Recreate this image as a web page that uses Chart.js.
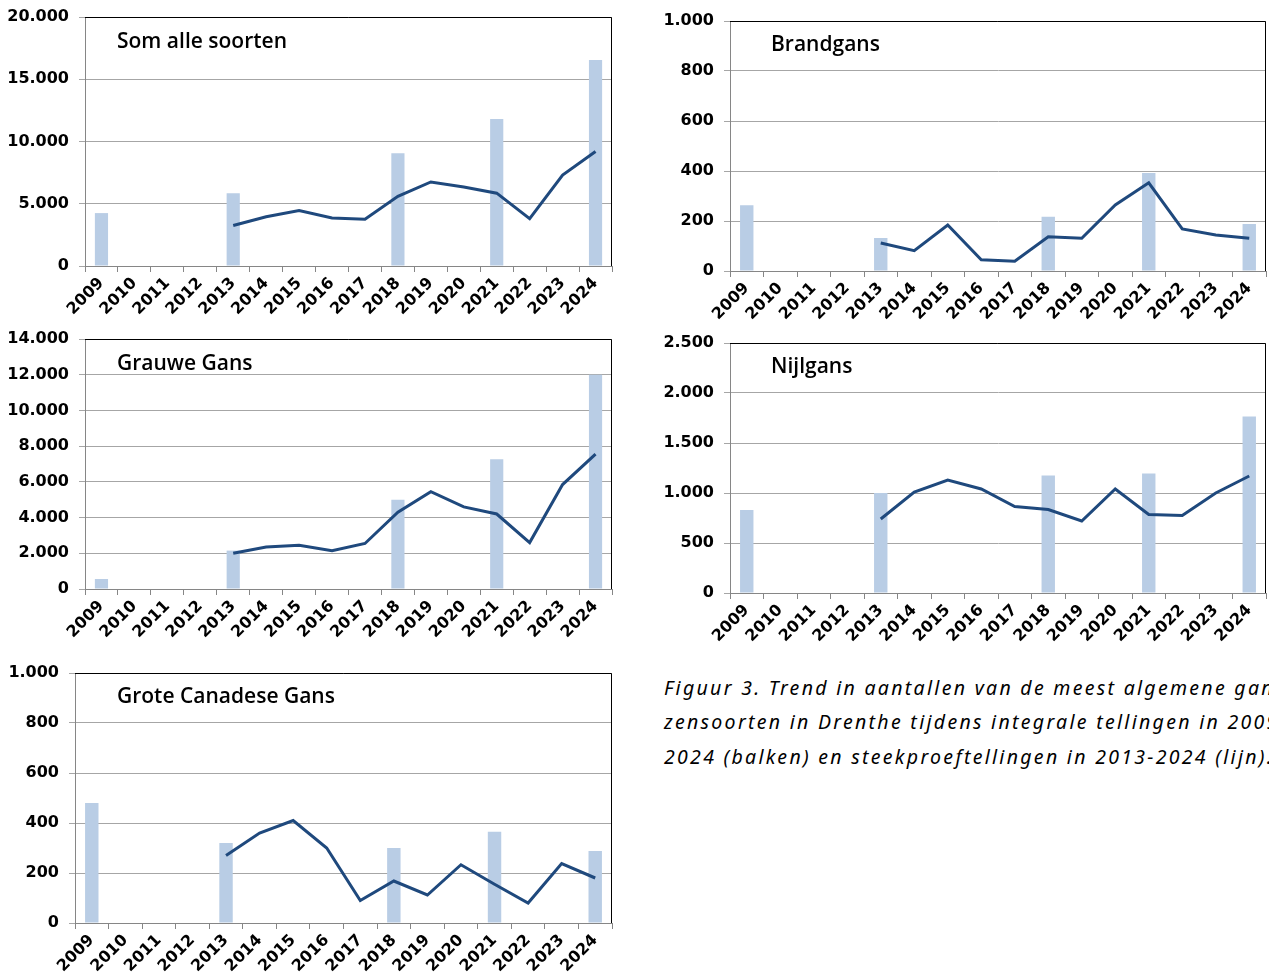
<!DOCTYPE html>
<html>
<head>
<meta charset="utf-8">
<script src="https://cdn.jsdelivr.net/npm/chart.js@4"></script>
<style>
  html, body { margin: 0; padding: 0; background: #fff; }
  body { width: 1269px; height: 978px; position: relative; overflow: hidden; }
  .box { position: absolute; }
  .title { position: absolute; font-family: "Open Sans", sans-serif; font-weight: 600; font-size: 21px;
           line-height: 30px; height: 30px; color: #000; white-space: nowrap; }
  .cap { position: absolute; left: 664px; font-family: "Noto Sans", sans-serif; font-style: italic;
         font-size: 19.5px; letter-spacing: 2.3px; line-height: 30px; white-space: nowrap; color: #000; }
</style>
</head>
<body>
<div class="box" style="left:0px;top:0px;width:625px;height:335px"><canvas id="cSom"></canvas></div>
<div class="box" style="left:640px;top:0px;width:629px;height:335px"><canvas id="cBrand"></canvas></div>
<div class="box" style="left:0px;top:330px;width:625px;height:330px"><canvas id="cGrauwe"></canvas></div>
<div class="box" style="left:640px;top:335px;width:629px;height:320px"><canvas id="cNijl"></canvas></div>
<div class="box" style="left:0px;top:665px;width:625px;height:313px"><canvas id="cCan"></canvas></div>

<div class="title" style="left:117px;top:25px">Som alle soorten</div>
<div class="title" style="left:771px;top:28px">Brandgans</div>
<div class="title" style="left:117px;top:347px">Grauwe Gans</div>
<div class="title" style="left:771px;top:350px">Nijlgans</div>
<div class="title" style="left:117px;top:680px">Grote Canadese Gans</div>

<div class="cap" style="top:673px">Figuur 3. Trend in aantallen van de meest algemene gan-</div>
<div class="cap" style="top:707px">zensoorten in Drenthe tijdens integrale tellingen in 2009-</div>
<div class="cap" style="top:742px">2024 (balken) en steekproeftellingen in 2013-2024 (lijn).</div>

<script>
const years = ['2009', '2010', '2011', '2012', '2013', '2014', '2015', '2016',
               '2017', '2018', '2019', '2020', '2021', '2022', '2023', '2024'];

// integrale tellingen (balken)
const somBars    = [4250, null, null, null, 5850, null, null, null, null, 9050, null, null, 11800, null, null, 16550];
const brandBars  = [263, null, null, null, 132, null, null, null, null, 217, null, null, 392, null, null, 188];
const grauweBars = [560, null, null, null, 2150, null, null, null, null, 5000, null, null, 7270, null, null, 12000];
const nijlBars   = [830, null, null, null, 1000, null, null, null, null, 1175, null, null, 1195, null, null, 1765];
const canBars    = [480, null, null, null, 320, null, null, null, null, 300, null, null, 365, null, null, 288];

// steekproeftellingen (lijn)
const somLine    = [null, null, null, null, 3250, 3950, 4450, 3850, 3750, 5600, 6750, 6350, 5850, 3800, 7300, 9200];
const brandLine  = [null, null, null, null, 112, 81, 184, 45, 39, 137, 131, 264, 353, 168, 144, 131];
const grauweLine = [null, null, null, null, 2000, 2350, 2450, 2150, 2550, 4300, 5450, 4600, 4200, 2600, 5850, 7550];
const nijlLine   = [null, null, null, null, 740, 1010, 1130, 1040, 865, 835, 720, 1040, 785, 775, 1000, 1170];
const canLine    = [null, null, null, null, 270, 360, 410, 300, 90, 168, 112, 233, 155, 80, 238, 180];

const BAR_COLOR = '#b9cde5';
const LINE_COLOR = '#1f497d';
const AXIS_GRAY = '#868686';

// top + right edge of the plot area in black
const framePlugin = {
    id: 'frame',
    afterDatasetsDraw(chart) {
        const { ctx, chartArea: a } = chart;
        ctx.save();
        ctx.strokeStyle = '#000';
        ctx.lineWidth = 1;
        ctx.beginPath();
        ctx.moveTo(a.left, Math.round(a.top) + 0.5);
        ctx.lineTo(Math.round(a.right) - 0.5, Math.round(a.top) + 0.5);
        ctx.lineTo(Math.round(a.right) - 0.5, a.bottom);
        ctx.stroke();
        ctx.restore();
    }
};

const dotted = v => String(v).replace(/\B(?=(\d{3})+(?!\d))/g, '.');

// box = where the canvas sits on the page, plot = where the chart area must land
function makeGooseChart(canvasId, bars, line, max, step, box, plot) {
    return new Chart(document.getElementById(canvasId), {
        type: 'bar',
        data: {
            labels: years,
            datasets: [
                { type: 'line', data: line, borderColor: LINE_COLOR, borderWidth: 3, pointRadius: 0,
                  tension: 0, spanGaps: false, order: 0 },
                { type: 'bar', data: bars, backgroundColor: BAR_COLOR, barPercentage: 0.4,
                  categoryPercentage: 1, order: 1 }
            ]
        },
        options: {
            responsive: true,
            maintainAspectRatio: false,
            animation: false,
            layout: { padding: { top: plot.top - box.top, right: box.left + box.w - plot.right, left: 0, bottom: 0 } },
            plugins: { legend: { display: false }, tooltip: { enabled: false } },
            scales: {
                x: {
                    offset: true,
                    grid: { offset: true, drawOnChartArea: false, tickLength: 6, color: AXIS_GRAY },
                    border: { color: AXIS_GRAY },
                    ticks: { autoSkip: false, minRotation: 45, maxRotation: 45, color: '#000',
                             font: { family: 'DejaVu Sans', weight: 'bold', size: 16 }, padding: 2 },
                    afterFit: s => {
                        s.height = box.top + box.h - plot.bottom;
                        s.paddingLeft = 0; s.paddingRight = 0;
                    }
                },
                y: {
                    min: 0, max: max,
                    grid: { color: '#a6a6a6', tickLength: 6 },
                    border: { color: AXIS_GRAY },
                    ticks: { stepSize: step, color: '#000', padding: 10, callback: dotted,
                             font: { family: 'DejaVu Sans', weight: 'bold', size: 16 } },
                    afterFit: s => {
                        s.width = plot.left - box.left;
                        s.paddingTop = 0; s.paddingBottom = 0;
                    }
                }
            }
        },
        plugins: [framePlugin]
    });
}

makeGooseChart('cSom', somBars, somLine, 20000, 5000,
    { left: 0, top: 0, w: 625, h: 335 }, { left: 85, top: 17, right: 612, bottom: 266 });
makeGooseChart('cBrand', brandBars, brandLine, 1000, 200,
    { left: 640, top: 0, w: 629, h: 335 }, { left: 730, top: 21, right: 1266, bottom: 271 });
makeGooseChart('cGrauwe', grauweBars, grauweLine, 14000, 2000,
    { left: 0, top: 330, w: 625, h: 330 }, { left: 85, top: 339, right: 612, bottom: 589 });
makeGooseChart('cNijl', nijlBars, nijlLine, 2500, 500,
    { left: 640, top: 335, w: 629, h: 320 }, { left: 730, top: 343, right: 1266, bottom: 593 });
makeGooseChart('cCan', canBars, canLine, 1000, 200,
    { left: 0, top: 665, w: 625, h: 313 }, { left: 75, top: 673, right: 612, bottom: 923 });
</script>
</body>
</html>
